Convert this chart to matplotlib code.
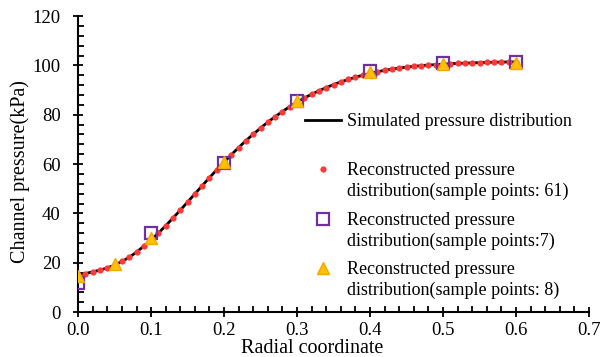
import matplotlib.pyplot as plt

plt.rcParams['font.family'] = ['Liberation Serif', 'DejaVu Serif']

# simulated / reconstructed curve (61 points, r = 0.00 ... 0.60)
r61 = [i / 100 for i in range(61)]
p61 = [15.0, 15.6, 16.3, 17.0, 17.9, 19.0, 20.5, 22.2, 24.3, 26.7,
       29.3, 32.0, 35.0, 38.1, 41.3, 44.6, 47.9, 51.2, 54.5, 57.7,
       60.8, 63.8, 66.7, 69.5, 72.1, 74.6, 77.0, 79.2, 81.3, 83.3,
       85.1, 86.8, 88.3, 89.7, 91.0, 92.2, 93.3, 94.3, 95.2, 96.0,
       96.8, 97.4, 98.0, 98.5, 98.9, 99.3, 99.6, 99.9, 100.1, 100.3,
       100.5, 100.7, 100.8, 100.9, 101.0, 101.1, 101.2, 101.3, 101.3, 101.4,
       101.4]

# 7 sample points
r7 = [0.0, 0.1, 0.2, 0.3, 0.4, 0.5, 0.6]
p7 = [11.8, 32.2, 60.6, 85.6, 97.6, 101.0, 101.5]

# 8 sample points
r8 = [0.0, 0.05, 0.1, 0.2, 0.3, 0.4, 0.5, 0.6]
p8 = [14.5, 19.6, 30.0, 61.0, 85.4, 97.2, 100.6, 101.0]

xtick_labels = ['0.0', '0.1', '0.2', '0.3', '0.4', '0.5', '0.6', '0.7']
second_lines = ['distribution(sample points: 61)',
                'distribution(sample points:7)',
                'distribution(sample points: 8)']

fig = plt.figure(figsize=(6.01, 3.57), dpi=100)
ax = fig.add_axes([0.13, 0.126, 0.85, 0.829])

ax.plot(r61, p61, color='black', lw=2, label='Simulated pressure distribution', zorder=2)
ax.plot(r61, p61, 'o', color='#FF3838', ms=4.5, mec='none',
        label='Reconstructed pressure', zorder=3)
ax.plot(r7, p7, 's', mfc='none', mec='#7030A0', mew=1.6, ms=9,
        label='Reconstructed pressure', zorder=4)
ax.plot(r8, p8, '^', color='#FFC000', mec='#F5A800', ms=9,
        label='Reconstructed pressure', zorder=5)

ax.set_xlim(0, 0.7)
ax.set_ylim(0, 120)
ax.set_xticks([i / 10 for i in range(8)])
ax.set_xticklabels(xtick_labels)
ax.set_yticks(range(0, 121, 20))
ax.set_xticks([i / 50 for i in range(36)], minor=True)
ax.set_yticks(range(0, 121, 4), minor=True)
ax.tick_params(which='major', direction='inout', length=7, width=1.3, labelsize=13.5)
ax.tick_params(which='minor', direction='in', length=4, width=1.3)
ax.tick_params(axis='x', pad=4)
ax.tick_params(axis='y', pad=9)

for side in ['top', 'right']:
    ax.spines[side].set_visible(False)
for side in ['left', 'bottom']:
    ax.spines[side].set_linewidth(1.5)

ax.set_xlabel('Radial coordinate', fontsize=14.5)
ax.xaxis.set_label_coords(0.458, -0.092)
ax.xaxis.label.set_va('top')
ax.set_ylabel('Channel pressure(kPa)', fontsize=14.5)
ax.yaxis.set_label_coords(-0.095, 0.476)

leg = ax.legend(loc='upper left', bbox_to_anchor=(0.445, 0.673), frameon=False,
                fontsize=13, handlelength=1.95, handletextpad=0.35,
                labelspacing=1.8, borderpad=0, borderaxespad=0)

# second line of each reconstructed label, hung under the first line
texts = leg.get_texts()
for t, s in zip(texts[1:], second_lines):
    ax.annotate(s, xy=(0, 0), xycoords=t, xytext=(0, -2.5),
                textcoords='offset points', va='top', fontsize=13, zorder=10)

fig.savefig('out.png', dpi=100)
